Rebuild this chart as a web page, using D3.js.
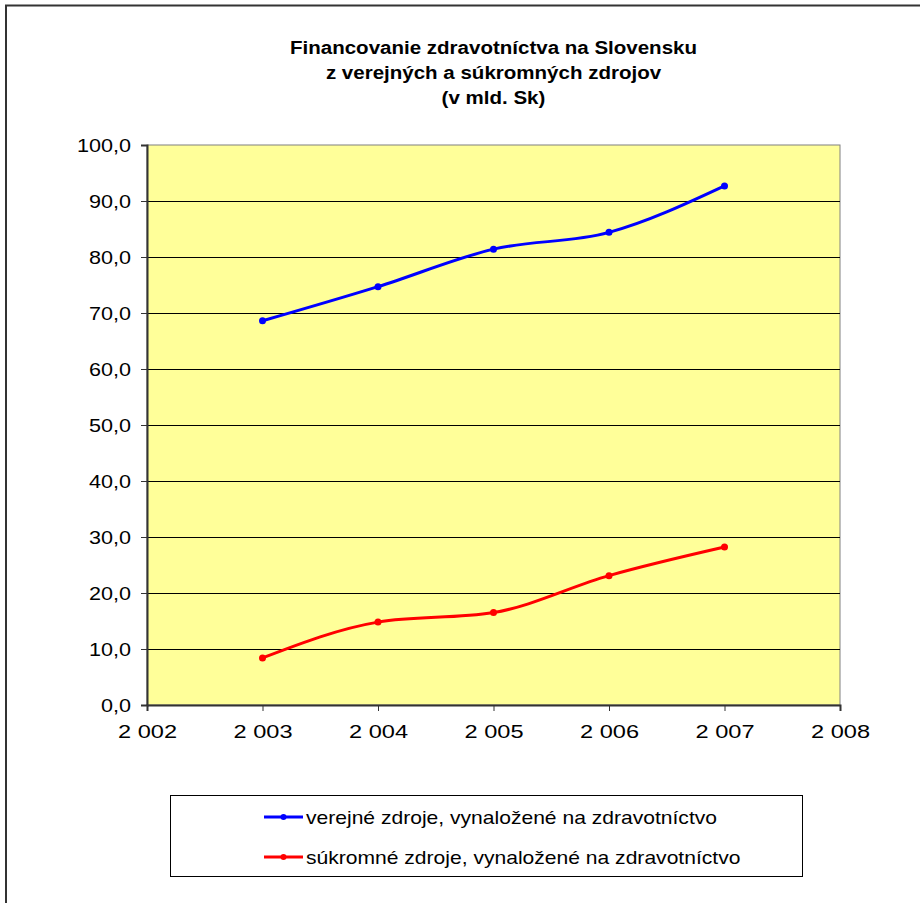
<!DOCTYPE html>
<html><head><meta charset="utf-8">
<script src="https://cdn.jsdelivr.net/npm/d3@7"></script>
<style>
body{margin:0;background:#fff;}
text{font-family:"Liberation Sans",Arial,sans-serif;}
</style></head>
<body><svg id="c" width="920" height="903"></svg>
<script>
const years = [2003, 2004, 2005, 2006, 2007];
const publicValues = [68.6, 74.7, 81.4, 84.4, 92.7];
const privateValues = [8.4, 14.8, 16.5, 23.1, 28.2];
const seriesNames = ["verejné zdroje, vynaložené na zdravotníctvo", "súkromné zdroje, vynaložené na zdravotníctvo"];
const seriesColors = ["#0000FF", "#FF0000"];
const xTicks = [2002, 2003, 2004, 2005, 2006, 2007, 2008];
const yTicks = [0, 10, 20, 30, 40, 50, 60, 70, 80, 90, 100];
const titleLines = ["Financovanie zdravotníctva na Slovensku", "z verejných a súkromných zdrojov", "(v mld. Sk)"];

const svg = d3.select("#c");
const L = 147, R = 840, T = 145, B = 705;
const x = d3.scaleLinear().domain([2002, 2008]).range([L, R]);
const y = d3.scaleLinear().domain([0, 100]).range([B, T]);

// stretch text horizontally to match the wide reference rendering
function stretch(sel, factor) {
  sel.each(function () {
    const w = this.getComputedTextLength();
    d3.select(this).attr("textLength", w * factor).attr("lengthAdjust", "spacingAndGlyphs");
  });
}

// outer frame
svg.append("rect").attr("x", 6).attr("y", 5.5).attr("width", 1000).attr("height", 1000)
  .attr("fill", "none").attr("stroke", "#333").attr("stroke-width", 2);

// title
const tt = svg.append("g").selectAll("text").data(titleLines).join("text")
  .attr("x", (L + R) / 2).attr("y", (d, i) => 54 + i * 25)
  .attr("text-anchor", "middle").attr("font-size", 18).attr("font-weight", "bold")
  .text(d => d);
{
  const w0 = tt.nodes()[0].getComputedTextLength();
  stretch(tt, 407 / w0);
}

// plot bg
svg.append("rect").attr("x", L).attr("y", T).attr("width", R - L).attr("height", B - T)
  .attr("fill", "#FFFF99").attr("stroke", "#808080").attr("stroke-width", 1);

// gridlines
svg.append("g").selectAll("line").data(yTicks.slice(1, -1)).join("line")
  .attr("x1", L).attr("x2", R).attr("y1", d => Math.round(y(d)) + 0.5).attr("y2", d => Math.round(y(d)) + 0.5)
  .attr("stroke", "#000").attr("stroke-width", 1);

// axes
const yAxis = d3.axisLeft(y).tickValues(yTicks).tickSize(6).tickPadding(10)
  .tickFormat(d => d3.format(".1f")(d).replace(".", ","));
const gy = svg.append("g").attr("transform", `translate(${L},0)`).call(yAxis);
gy.select(".domain").attr("stroke", "#333").attr("stroke-width", 2);
gy.selectAll(".tick line").attr("stroke", "#333");
const yt = gy.selectAll("text").attr("font-size", 19).attr("fill", "#000").style("font-family", '"Liberation Sans",Arial,sans-serif');
{
  const last = yt.nodes()[yt.size() - 1].getComputedTextLength();
  stretch(yt, 54 / last);
}

const xAxis = d3.axisBottom(x).tickValues(xTicks).tickSize(6).tickPadding(14)
  .tickFormat(d => String(d).replace(/^(\d)(\d{3})$/, "$1 $2"));
const gx = svg.append("g").attr("transform", `translate(0,${B})`).call(xAxis);
gx.select(".domain").attr("stroke", "#333").attr("stroke-width", 2);
gx.selectAll(".tick line").attr("stroke", "#333");
const xt = gx.selectAll("text").attr("font-size", 19).attr("fill", "#000").style("font-family", '"Liberation Sans",Arial,sans-serif');
{
  const w0 = xt.nodes()[0].getComputedTextLength();
  stretch(xt, 59 / w0);
}

// lines
const series = [publicValues, privateValues];
const line = d3.line().x((d, i) => x(years[i])).y(d => y(d)).curve(d3.curveMonotoneX);
series.forEach((vals, s) => {
  svg.append("path").datum(vals).attr("d", line).attr("fill", "none")
    .attr("stroke", seriesColors[s]).attr("stroke-width", 3).attr("stroke-linejoin", "round");
  svg.append("g").selectAll("circle").data(vals).join("circle")
    .attr("cx", (d, i) => x(years[i])).attr("cy", d => y(d)).attr("r", 3.5).attr("fill", seriesColors[s]);
});

// legend
svg.append("rect").attr("x", 170.5).attr("y", 795.5).attr("width", 632).attr("height", 81)
  .attr("fill", "#fff").attr("stroke", "#000").attr("stroke-width", 1);
const lg = svg.append("g").selectAll("g").data(seriesNames).join("g")
  .attr("transform", (d, i) => `translate(264,${817 + i * 40})`);
lg.append("line").attr("x1", 0).attr("x2", 39).attr("stroke", (d, i) => seriesColors[i]).attr("stroke-width", 3);
lg.append("circle").attr("cx", 19.5).attr("r", 3).attr("fill", (d, i) => seriesColors[i]);
const lt = lg.append("text").attr("x", 42).attr("y", 7).attr("font-size", 19).text(d => d);
{
  const w0 = lt.nodes()[0].getComputedTextLength();
  stretch(lt, 411 / w0);
}
</script></body></html>
